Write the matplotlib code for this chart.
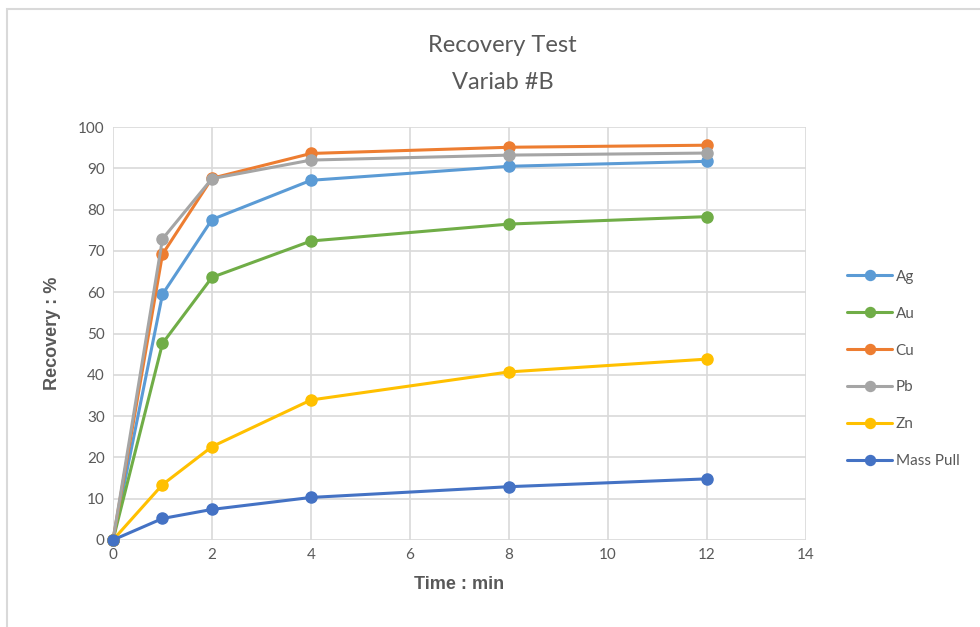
import matplotlib
matplotlib.use("Agg")
import matplotlib.pyplot as plt
from matplotlib.patches import Rectangle

# === Data ===
time_min = [0, 1, 2, 4, 8, 12]
ag = [0, 59.5, 77.6, 87.1, 90.5, 91.7]
au = [0, 47.6, 63.6, 72.4, 76.5, 78.3]
cu = [0, 69.2, 87.6, 93.6, 95.1, 95.6]
pb = [0, 72.9, 87.5, 92.0, 93.2, 93.7]
zn = [0, 13.4, 22.6, 33.9, 40.7, 43.8]
mass_pull = [0, 5.2, 7.4, 10.3, 12.9, 14.8]

series_names = ["Ag", "Au", "Cu", "Pb", "Zn", "Mass Pull"]
series_values = [ag, au, cu, pb, zn, mass_pull]
series_colors = ["#5B9BD5", "#70AD47", "#ED7D31", "#A5A5A5", "#FFC000", "#4472C4"]

x_ticks = [0, 2, 4, 6, 8, 10, 12, 14]
y_ticks = [0, 10, 20, 30, 40, 50, 60, 70, 80, 90, 100]

plt.rcParams['font.family'] = ['Lato', 'DejaVu Sans']

fig = plt.figure(figsize=(9.8, 6.27), dpi=100)

# chart area border (only left and top edges visible in the crop)
fig.patches.append(Rectangle((7 / 980, -0.05), 1.1, 1.05 - 9 / 627 + 0.0, transform=fig.transFigure,
                             fill=False, edgecolor="#D9D9D9", lw=1.5))

ax = fig.add_axes([0.1153, 0.1388, 0.7071, 0.6586])

for name, vals, col in zip(series_names, series_values, series_colors):
    ax.plot(time_min, vals, color=col, lw=2.2, marker='o', ms=8, label=name,
            solid_capstyle='round', clip_on=False, zorder=3)

ax.set_xlim(0, 14)
ax.set_ylim(0, 100)
ax.set_xticks(x_ticks)
ax.set_yticks(y_ticks)
ax.grid(True, color="#D9D9D9", lw=1.2, zorder=0)
ax.set_axisbelow(True)
for s in ax.spines.values():
    s.set_visible(False)
ax.tick_params(length=0, labelsize=11, colors="#595959", pad=6)

ax.set_xlabel("Time : min", fontsize=13, fontweight='bold', color="#595959",
              family=['Liberation Sans'], labelpad=10)
ax.set_ylabel("Recovery : %", fontsize=13, fontweight='bold', color="#595959",
              family=['Liberation Sans'], labelpad=12)

fig.text(0.513, 0.927, "Recovery Test", ha='center', va='center', fontsize=17, color="#595959")
fig.text(0.513, 0.868, "Variab #B", ha='center', va='center', fontsize=17, color="#595959")

ax.legend(loc='center left', bbox_to_anchor=(1.04, 0.414), frameon=False,
          fontsize=11, labelcolor="#595959", handlelength=2.9, handletextpad=0.25,
          labelspacing=1.5, markerscale=0.9)

fig.savefig("out.png", dpi=100, facecolor='white')
